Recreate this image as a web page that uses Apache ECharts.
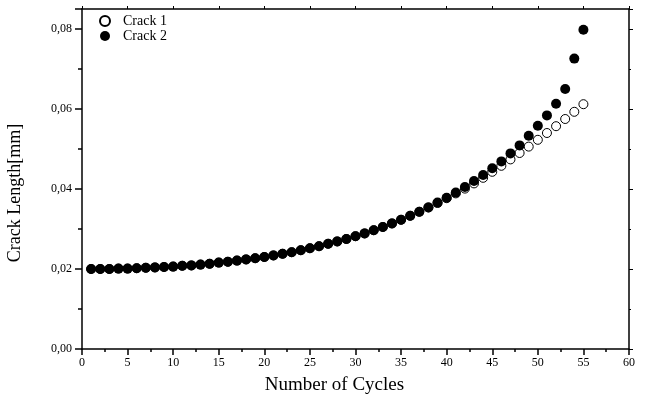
<!DOCTYPE html>
<html>
<head>
<meta charset="utf-8">
<script src="https://cdn.jsdelivr.net/npm/echarts@6/dist/echarts.min.js"></script>
<style>
  html, body { margin: 0; padding: 0; background: #fff; }
  #chart { width: 648px; height: 396px; }
</style>
</head>
<body>
<div id="chart"></div>
<script>
// cycles 1..55
const cycles = [
  1, 2, 3, 4, 5, 6, 7, 8, 9, 10, 11, 12, 13, 14, 15, 16, 17, 18, 19, 20,
  21, 22, 23, 24, 25, 26, 27, 28, 29, 30, 31, 32, 33, 34, 35, 36, 37, 38, 39, 40,
  41, 42, 43, 44, 45, 46, 47, 48, 49, 50, 51, 52, 53, 54, 55
];

const crack1 = [
  0.0200, 0.0200, 0.0200, 0.0201, 0.0201, 0.0202, 0.0203, 0.0204, 0.0205, 0.0206,
  0.0208, 0.0209, 0.0211, 0.0213, 0.0216, 0.0218, 0.0221, 0.0224, 0.0227, 0.0230,
  0.0234, 0.0238, 0.0242, 0.0247, 0.0252, 0.0257, 0.0263, 0.0269, 0.0275, 0.0282,
  0.0289, 0.0297, 0.0305, 0.0314, 0.0323, 0.0333, 0.0343, 0.0354, 0.0365, 0.0377,
  0.0389, 0.0401, 0.0414, 0.0428, 0.0443, 0.0458, 0.0474, 0.0490, 0.0506, 0.0523,
  0.0540, 0.0557, 0.0575, 0.0593, 0.0612
];

const crack2 = [
  0.0200, 0.0200, 0.0200, 0.0201, 0.0201, 0.0202, 0.0203, 0.0204, 0.0205, 0.0206,
  0.0208, 0.0209, 0.0211, 0.0213, 0.0216, 0.0218, 0.0221, 0.0224, 0.0227, 0.0230,
  0.0234, 0.0238, 0.0242, 0.0247, 0.0252, 0.0257, 0.0263, 0.0269, 0.0275, 0.0282,
  0.0289, 0.0297, 0.0305, 0.0314, 0.0323, 0.0333, 0.0343, 0.0354, 0.0366, 0.0378,
  0.0391, 0.0405, 0.0420, 0.0435, 0.0452, 0.0469, 0.0489, 0.0509, 0.0533, 0.0558,
  0.0584, 0.0613, 0.0650, 0.0726, 0.0798
];

const seriesNames = ['Crack 1', 'Crack 2'];

const serif = '"Liberation Serif", "DejaVu Serif", serif';

const pairs = (ys) => cycles.map((c, i) => [c, ys[i]]);

const chart = echarts.init(document.getElementById('chart'));

const frameAxis = {
  axisLine: { show: true, onZero: false, lineStyle: { color: '#000', width: 1.5 } },
  splitLine: { show: false },
  minorSplitLine: { show: false }
};

const option = {
  animation: false,
  backgroundColor: '#fff',
  textStyle: { fontFamily: serif, color: '#000' },
  grid: { left: 82, right: 19, top: 9, bottom: 47, outerBoundsMode: 'none', containLabel: false },
  legend: {
    orient: 'vertical',
    left: 94,
    top: 9,
    itemGap: 1,
    itemWidth: 10,
    itemHeight: 10,
    data: [
      { name: seriesNames[0], icon: 'circle' },
      { name: seriesNames[1], icon: 'circle' }
    ],
    textStyle: { fontFamily: serif, fontSize: 14, color: '#000', padding: [0, 0, 0, 8] }
  },
  xAxis: [
    Object.assign({}, frameAxis, {
      type: 'value',
      min: 0,
      max: 60,
      interval: 5,
      position: 'bottom',
      name: 'Number of Cycles',
      nameLocation: 'middle',
      nameGap: 27,
      nameTextStyle: { fontFamily: serif, fontSize: 19, color: '#000', padding: [0, 42, 0, 0] },
      axisTick: { show: true, inside: false, length: 6, lineStyle: { color: '#000', width: 1.5 } },
      minorTick: { show: true, splitNumber: 2, length: 3, lineStyle: { color: '#000', width: 1.5 } },
      axisLabel: { fontFamily: serif, fontSize: 12, color: '#000', margin: 8 }
    }),
    Object.assign({}, frameAxis, {
      type: 'value',
      min: 0,
      max: 60,
      interval: 5,
      position: 'top',
      axisTick: { show: true, inside: false, length: 3, lineStyle: { color: '#000' } },
      minorTick: { show: false },
      axisLabel: { show: false }
    })
  ],
  yAxis: [
    Object.assign({}, frameAxis, {
      type: 'value',
      min: 0,
      max: 0.085,
      interval: 0.02,
      position: 'left',
      name: 'Crack Length[mm]',
      nameLocation: 'middle',
      nameGap: 58,
      nameTextStyle: { fontFamily: serif, fontSize: 18, color: '#000', padding: [0, 28, 0, 0] },
      axisTick: { show: true, inside: false, length: 7, lineStyle: { color: '#000', width: 1.5 } },
      minorTick: { show: true, splitNumber: 2, length: 4, lineStyle: { color: '#000', width: 1.5 } },
      axisLabel: {
        fontFamily: serif,
        fontSize: 12,
        color: '#000',
        margin: 10,
        showMaxLabel: false,
        formatter: (v) => v.toFixed(2).replace('.', ',')
      }
    }),
    Object.assign({}, frameAxis, {
      type: 'value',
      min: 0,
      max: 0.085,
      interval: 0.02,
      position: 'right',
      axisTick: { show: true, inside: false, length: 4, lineStyle: { color: '#000' } },
      minorTick: { show: true, splitNumber: 2, length: 2, lineStyle: { color: '#000' } },
      axisLabel: { show: false }
    })
  ],
  series: [
    {
      name: seriesNames[0],
      type: 'scatter',
      data: pairs(crack1),
      symbol: 'circle',
      symbolSize: 9,
      itemStyle: { color: '#fff', borderColor: '#000', borderWidth: 1, opacity: 1 }
    },
    {
      name: seriesNames[1],
      type: 'scatter',
      data: pairs(crack2),
      symbol: 'circle',
      symbolSize: 10,
      itemStyle: { color: '#000', borderColor: '#000', borderWidth: 0, opacity: 1 }
    }
  ]
};

chart.setOption(option);
</script>
</body>
</html>
